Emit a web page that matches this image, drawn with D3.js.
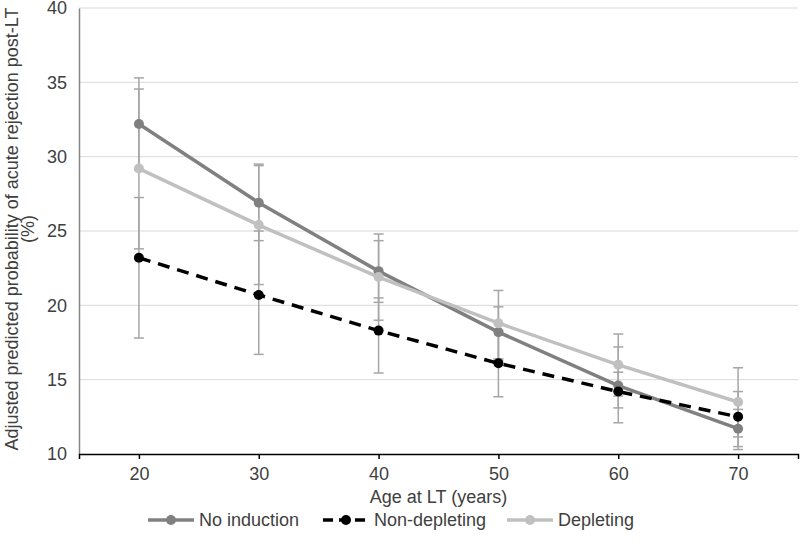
<!doctype html>
<html>
<head>
<meta charset="utf-8">
<script src="https://d3js.org/d3.v7.min.js"></script>
<style>
  body { margin: 0; background: #fff; }
  text { font-family: "Liberation Sans", Arial, sans-serif; fill: #404040; }
</style>
</head>
<body>
<svg width="800" height="559"></svg>
<script>
var ages = [20, 30, 40, 50, 60, 70];
var yTicks = [10, 15, 20, 25, 30, 35, 40];

var noInduction     = [32.2, 26.9, 22.3, 18.2, 14.6, 11.7];
var noInductionLow  = [29.1, 24.35, 20.2, 16.4, 12.1, 10.5];
var noInductionHigh = [35.3, 29.5, 24.35, 19.9, 17.2, 13.0];

var nonDepleting     = [23.2, 20.7, 18.3, 16.1, 14.2, 12.5];
var nonDepletingLow  = [17.8, 16.7, 15.45, 13.85, 13.1, 10.3];
var nonDepletingHigh = [27.25, 25.0, 20.5, 18.3, 15.5, 14.2];

var depleting     = [29.2, 25.4, 21.9, 18.8, 16.0, 13.5];
var depletingLow  = [23.8, 21.4, 19.0, 16.3, 13.9, 11.15];
var depletingHigh = [34.55, 29.4, 24.8, 21.0, 18.07, 15.8];

var series = [
  { name: "No induction", values: noInduction, low: noInductionLow, high: noInductionHigh, color: "#808080", dash: null },
  { name: "Non-depleting", values: nonDepleting, low: nonDepletingLow, high: nonDepletingHigh, color: "#000000", dash: "12,8" },
  { name: "Depleting", values: depleting, low: depletingLow, high: depletingHigh, color: "#c0c0c0", dash: null }
];

var svg = d3.select("svg");
var plotLeft = 79, plotRight = 798, plotTop = 8, plotBottom = 454;

var x = d3.scaleLinear().domain([15, 75]).range([plotLeft, plotRight]);
var y = d3.scaleLinear().domain([10, 40]).range([plotBottom, plotTop]);

// gridlines
svg.append("g")
   .selectAll("line")
   .data(yTicks.slice(1))
   .enter()
   .append("line")
   .attr("x1", plotLeft).attr("x2", plotRight)
   .attr("y1", function(d) { return y(d); })
   .attr("y2", function(d) { return y(d); })
   .attr("stroke", "#d9d9d9")
   .attr("stroke-width", 1);

// y axis
var yAxis = svg.append("g")
   .attr("transform", "translate(" + plotLeft + ",0)")
   .call(d3.axisLeft(y).tickValues(yTicks).tickSize(0).tickPadding(12));
yAxis.select(".domain").attr("stroke", "#868686").attr("stroke-width", 1.5);
yAxis.selectAll("text").attr("font-size", "18px").style("fill", "#404040");

// x axis
var xAxis = svg.append("g")
   .attr("transform", "translate(0," + plotBottom + ")")
   .call(d3.axisBottom(x).tickValues(ages).tickSizeInner(5).tickSizeOuter(5).tickPadding(8));
xAxis.select(".domain").attr("stroke", "#000").attr("stroke-width", 1.5);
xAxis.selectAll(".tick line").attr("stroke", "#000").attr("stroke-width", 1.5);
xAxis.selectAll("text").attr("font-size", "18px").style("fill", "#404040");

// error bars
series.forEach(function(s) {
  var g = svg.append("g");
  ages.forEach(function(a, i) {
    var cx = x(a);
    g.append("line")
     .attr("x1", cx).attr("x2", cx)
     .attr("y1", y(s.low[i])).attr("y2", y(s.high[i]))
     .attr("stroke", "#a6a6a6").attr("stroke-width", 1.5);
    [s.low[i], s.high[i]].forEach(function(v) {
      g.append("line")
       .attr("x1", cx - 5).attr("x2", cx + 5)
       .attr("y1", y(v)).attr("y2", y(v))
       .attr("stroke", "#a6a6a6").attr("stroke-width", 1.5);
    });
  });
});

// lines + markers
var line = d3.line()
   .x(function(d, i) { return x(ages[i]); })
   .y(function(d) { return y(d); });

series.forEach(function(s) {
  svg.append("path")
     .datum(s.values)
     .attr("fill", "none")
     .attr("stroke", s.color)
     .attr("stroke-width", 3.5)
     .attr("stroke-dasharray", s.dash)
     .attr("d", line);
  svg.append("g")
     .selectAll("circle")
     .data(s.values)
     .enter()
     .append("circle")
     .attr("cx", function(d, i) { return x(ages[i]); })
     .attr("cy", function(d) { return y(d); })
     .attr("r", 5)
     .attr("fill", s.color);
});

// axis titles
svg.append("text")
   .attr("x", (plotLeft + plotRight) / 2)
   .attr("y", 503)
   .attr("text-anchor", "middle")
   .attr("font-size", "18px")
   .text("Age at LT (years)");

svg.append("text")
   .attr("transform", "translate(18,229) rotate(-90)")
   .attr("text-anchor", "middle")
   .attr("font-size", "18px")
   .text("Adjusted predicted probability of acute rejection post-LT");
svg.append("text")
   .attr("transform", "translate(34,229) rotate(-90)")
   .attr("text-anchor", "middle")
   .attr("font-size", "18px")
   .text("(%)");

// legend
var legendX = [148, 323, 507];
series.forEach(function(s, i) {
  var g = svg.append("g").attr("transform", "translate(" + legendX[i] + ",520)");
  g.append("line")
   .attr("x1", 0).attr("x2", 46)
   .attr("stroke", s.color).attr("stroke-width", 3.5)
   .attr("stroke-dasharray", s.dash ? "10,6" : null);
  g.append("circle").attr("cx", 23).attr("r", 5).attr("fill", s.color);
  g.append("text")
   .attr("x", 51).attr("y", 6)
   .attr("font-size", "18px")
   .text(s.name);
});
</script>
</body>
</html>
